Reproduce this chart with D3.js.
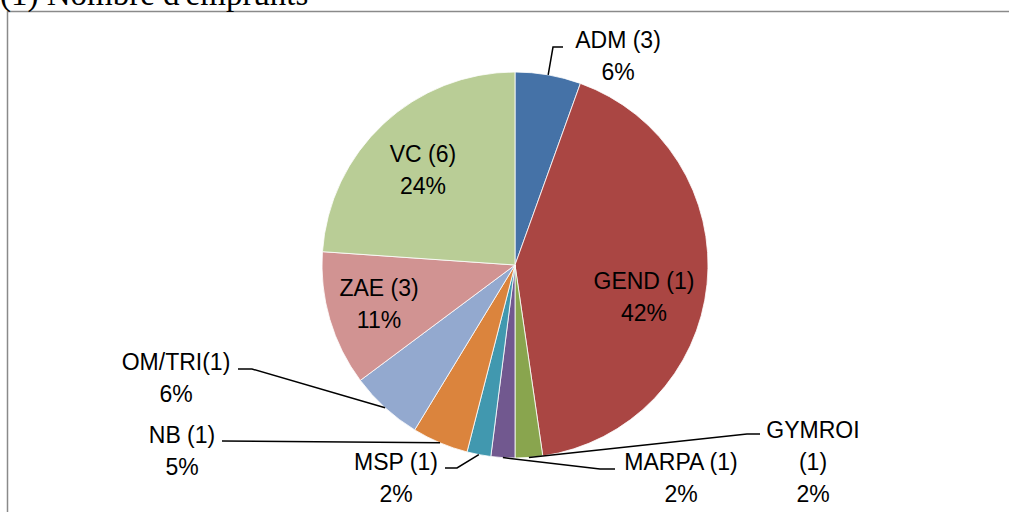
<!DOCTYPE html>
<html lang="fr">
<head>
    <meta charset="UTF-8">
    <title>(1) Nombre d'emprunts</title>
    <script src="https://d3js.org/d3.v7.min.js"></script>
    <style>
        body {
            margin: 0;
            padding: 0;
            background: #fff;
            overflow: hidden;
        }
        svg { display: block; }
        .title {
            font-family: "Liberation Serif", "Times New Roman", serif;
            font-size: 33px;
            fill: #000;
        }
        .lbl {
            font-family: "Liberation Sans", Arial, sans-serif;
            font-size: 23px;
            fill: #000;
        }
        .leader {
            fill: none;
            stroke: #000;
            stroke-width: 1.5;
        }
    </style>
</head>
<body>
<svg width="1009" height="512"></svg>

<script>
    // data (share of loans in %)
    const categories = ["ADM (3)", "GEND (1)", "GYMROI (1)", "MARPA (1)", "MSP (1)", "NB (1)", "OM/TRI(1)", "ZAE (3)", "VC (6)"];
    const values = [5.5, 42.2, 2.3, 2.0, 2.0, 4.7, 6.1, 11.3, 23.9];
    const pctLabels = ["6%", "42%", "2%", "2%", "2%", "5%", "6%", "11%", "24%"];
    const colors = ["#4572A7", "#AA4643", "#89A54E", "#71588F", "#4198AF", "#DB843D", "#93A9CF", "#D19392", "#B9CD96"];

    // label layout: lines of text, anchor centre, elbow of the leader line
    const layout = {
        "ADM (3)":    {lines: ["ADM (3)", "6%"], x: 618, y: 40, elbow: [553, 47], end: [563, 47]},
        "GEND (1)":   {lines: ["GEND (1)", "42%"], inner: true, x: 644, y: 281},
        "GYMROI (1)": {lines: ["GYMROI", "(1)", "2%"], x: 813, y: 430, elbow: [747, 434], end: [760, 434]},
        "MARPA (1)":  {lines: ["MARPA (1)", "2%"], x: 681, y: 462, elbow: [600, 469], end: [615, 469]},
        "MSP (1)":    {lines: ["MSP (1)", "2%"], x: 396, y: 462, elbow: [457, 468], end: [445, 468]},
        "NB (1)":     {lines: ["NB (1)", "5%"], x: 182, y: 435, elbow: [222, 441], end: [222, 441]},
        "OM/TRI(1)":  {lines: ["OM/TRI(1)", "6%"], x: 176, y: 362, elbow: [252, 369], end: [238, 369]},
        "ZAE (3)":    {lines: ["ZAE (3)", "11%"], inner: true, x: 379, y: 288},
        "VC (6)":     {lines: ["VC (6)", "24%"], inner: true, x: 423, y: 154}
    };

    const cx = 515, cy = 265, radius = 193;
    const lineH = 32;

    const svg = d3.select("svg");

    // chart frame (only top and left edges are in view)
    svg.append("rect")
        .attr("x", 7.5)
        .attr("y", 11.5)
        .attr("width", 1100)
        .attr("height", 600)
        .attr("fill", "none")
        .attr("stroke", "#8a8a8a")
        .attr("stroke-width", 1.5);

    // title sits above the frame and is cut by the top of the page
    svg.append("text")
        .attr("class", "title")
        .attr("x", 0)
        .attr("y", 5)
        .text("(1) Nombre d'emprunts");

    const color = d3.scaleOrdinal().domain(categories).range(colors);

    const pie = d3.pie()
        .sort(null)
        .value((d, i) => values[i]);

    const arc = d3.arc().innerRadius(0).outerRadius(radius);

    const g = svg.append("g").attr("transform", `translate(${cx},${cy})`);

    const arcs = pie(categories);

    g.selectAll("path.slice")
        .data(arcs)
        .join("path")
        .attr("class", "slice")
        .attr("d", arc)
        .attr("fill", d => color(d.data))
        .attr("stroke", "#fff")
        .attr("stroke-width", 0.8);

    // leader lines from the middle of the slice's outer edge
    arcs.forEach(d => {
        const l = layout[d.data];
        if (l.inner) return;
        const a = (d.startAngle + d.endAngle) / 2;
        const sx = cx + radius * Math.sin(a);
        const sy = cy - radius * Math.cos(a);
        svg.append("polyline")
            .attr("class", "leader")
            .attr("points", [[sx, sy], l.elbow, l.end].map(p => p.join(",")).join(" "));
    });

    // labels
    arcs.forEach(d => {
        const l = layout[d.data];
        const t = svg.append("text")
            .attr("class", "lbl")
            .attr("text-anchor", "middle")
            .attr("x", l.x)
            .attr("y", l.y)
            .attr("dominant-baseline", "central");
        l.lines.forEach((s, i) => {
            t.append("tspan")
                .attr("x", l.x)
                .attr("y", l.y + i * lineH)
                .text(s);
        });
    });
</script>
</body>
</html>
